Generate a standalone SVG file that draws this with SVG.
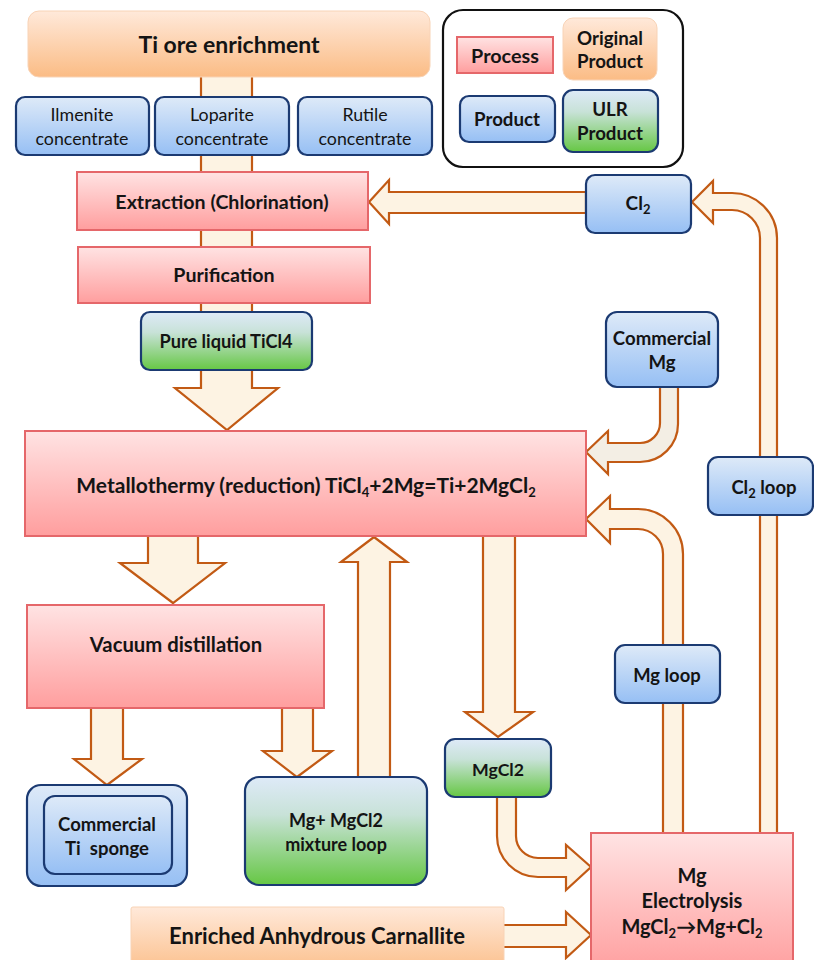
<svg xmlns="http://www.w3.org/2000/svg" width="814" height="960" viewBox="0 0 814 960">
<defs>
<linearGradient id="gPink" x1="0" y1="0" x2="0" y2="1"><stop offset="0" stop-color="#FFE3E3"/><stop offset="1" stop-color="#FF9E9E"/></linearGradient>
<linearGradient id="gBlue" x1="0" y1="0" x2="0" y2="1"><stop offset="0" stop-color="#DEEAF8"/><stop offset="1" stop-color="#96BFF4"/></linearGradient>
<linearGradient id="gGreen" x1="0" y1="0" x2="0" y2="1"><stop offset="0" stop-color="#DEEAF8"/><stop offset="0.35" stop-color="#C8E2D8"/><stop offset="1" stop-color="#66C744"/></linearGradient>
<linearGradient id="gOrange" x1="0" y1="0" x2="0" y2="1"><stop offset="0" stop-color="#FFE9DA"/><stop offset="1" stop-color="#FBBC85"/></linearGradient>
<style>
.proc{fill:url(#gPink);stroke:#E5676A;stroke-width:2}
.prod{fill:url(#gBlue);stroke:#1B3A72;stroke-width:2.2}
.ulr{fill:url(#gGreen);stroke:#1B3A72;stroke-width:2.2}
.orig{fill:url(#gOrange);stroke:#F8D3B6;stroke-width:1}
.arr{fill:#FDF3E3;stroke:#C25A14;stroke-width:2.2;stroke-linejoin:miter}
.arr2{fill:#F3EEE4;stroke:#C25A14;stroke-width:2.2}
text{font-family:Lato,"Open Sans","Liberation Sans",sans-serif;fill:#141414;text-anchor:middle}
.b{font-weight:bold;font-size:19px}
.r{font-size:17.8px}
.sub{font-size:13px}
</style>
</defs>
<rect width="814" height="960" fill="#FFFFFF"/>

<g id="connectors">
<path class="arr" d="M201,70 L201,388 L175,388 L227,430 L278,388 L252,388 L252,70 Z"/>
<path class="arr" d="M586,192 L389,192 L389,180 L369,202 L389,224 L389,213 L586,213 Z"/>
<path class="arr" d="M760,835 L760,238 A28,28 0 0 0 732,210 L713,210 L713,223 L692,202 L713,181 L713,193 L732,193 A45,45 0 0 1 777,238 L777,835 Z"/>
<path class="arr2" d="M660,385 L660,423 A20,20 0 0 1 640,443 L608,443 L608,431 L586,452 L608,474 L608,462 L640,462 A38,38 0 0 0 678,424 L678,385 Z"/>
<path class="arr" d="M663,835 L663,554 A25,25 0 0 0 638,529 L610,529 L610,543 L586,519 L610,496 L610,509 L638,509 A45,45 0 0 1 683,554 L683,835 Z"/>
<path class="arr" d="M148,534 L148,563 L120,563 L173,603 L225,563 L198,563 L198,534 Z"/>
<path class="arr" d="M91,706 L91,759 L74,759 L107,785 L142,759 L123,759 L123,706 Z"/>
<path class="arr" d="M282,706 L282,751 L263,751 L297,777 L332,751 L313,751 L313,706 Z"/>
<path class="arr" d="M358,779 L358,562 L341,562 L374,537 L407,562 L390,562 L390,779 Z"/>
<path class="arr" d="M483,534 L483,712 L465,712 L498,737 L533,712 L515,712 L515,534 Z"/>
<path class="arr" d="M497,795 L497,836 A41,41 0 0 0 538,877 L566,877 L566,890 L591,867 L566,845 L566,858 L538,858 A22,22 0 0 1 516,836 L516,795 Z"/>
<path class="arr" d="M502,925 L566,925 L566,912 L591,935 L566,958 L566,947 L502,947 Z"/>
</g>

<g id="ti-ore">
<rect class="orig" x="28" y="11" width="402" height="66" rx="11"/>
<text x="229" y="53" style="font-weight:bold;font-size:23px">Ti ore enrichment</text>
</g>
<g id="ilmenite">
<rect class="prod" x="16" y="97" width="133" height="58" rx="9"/>
<text class="r" x="82" y="121">Ilmenite</text><text class="r" x="82" y="145">concentrate</text>
</g>
<g id="loparite">
<rect class="prod" x="155" y="97" width="134" height="58" rx="9"/>
<text class="r" x="222" y="121">Loparite</text><text class="r" x="222" y="145">concentrate</text>
</g>
<g id="rutile">
<rect class="prod" x="298" y="97" width="134" height="58" rx="9"/>
<text class="r" x="365" y="121">Rutile</text><text class="r" x="365" y="145">concentrate</text>
</g>

<g id="legend">
<rect x="443" y="10" width="240" height="157" rx="20" fill="#FFFFFF" stroke="#111111" stroke-width="2.2"/>
<g id="legend-process"><rect class="proc" x="457" y="37" width="96" height="36"/><text class="b" x="505" y="63" style="font-size:19.8px">Process</text></g>
<g id="legend-original"><rect class="orig" x="563" y="18" width="94" height="62" rx="10"/><text class="b" x="610" y="45" style="font-size:18.7px">Original</text><text class="b" x="610" y="68" style="font-size:18.7px">Product</text></g>
<g id="legend-product"><rect class="prod" x="460" y="96" width="95" height="46" rx="9"/><text class="b" x="507" y="126" style="font-size:18.7px">Product</text></g>
<g id="legend-ulr"><rect class="ulr" x="563" y="90" width="95" height="62" rx="10"/><text class="b" x="610" y="116" style="font-size:18.7px">ULR</text><text class="b" x="610" y="140" style="font-size:18.7px">Product</text></g>
</g>

<g id="extraction">
<rect class="proc" x="77" y="172" width="291" height="58"/>
<text class="b" x="222" y="209" style="font-size:19.6px">Extraction (Chlorination)</text>
</g>
<g id="purification">
<rect class="proc" x="78" y="247" width="292" height="56"/>
<text class="b" x="224" y="282" style="font-size:19.6px">Purification</text>
</g>
<g id="pure-ticl4">
<rect class="ulr" x="141" y="312" width="171" height="58" rx="9"/>
<text class="b" x="226" y="348" style="font-size:18.2px">Pure liquid TiCl4</text>
</g>
<g id="cl2">
<rect class="prod" x="586" y="175" width="105" height="58" rx="9"/>
<text class="b" x="638" y="210">Cl<tspan class="sub" dy="4">2</tspan></text>
</g>
<g id="commercial-mg">
<rect class="prod" x="606" y="312" width="112" height="75" rx="11"/>
<text class="b" x="662" y="345" style="font-size:18.6px">Commercial</text><text class="b" x="662" y="369" style="font-size:18.6px">Mg</text>
</g>
<g id="metallothermy">
<rect class="proc" x="25" y="431" width="561" height="105"/>
<text class="b" x="306" y="493" style="font-size:21px">Metallothermy (reduction) TiCl<tspan class="sub" dy="4">4</tspan><tspan dy="-4">+2Mg=Ti+2MgCl</tspan><tspan class="sub" dy="4">2</tspan></text>
</g>
<g id="cl2-loop">
<rect class="prod" x="708" y="457" width="105" height="58" rx="10"/>
<text class="b" x="764" y="494" style="font-size:18.5px">Cl<tspan class="sub" dy="4">2</tspan><tspan dy="-4"> loop</tspan></text>
</g>
<g id="vacuum">
<rect class="proc" x="27" y="605" width="297" height="103"/>
<text class="b" x="176" y="652" style="font-size:20.3px">Vacuum distillation</text>
</g>
<g id="mg-loop">
<rect class="prod" x="615" y="645" width="105" height="58" rx="10"/>
<text class="b" x="667" y="682" style="font-size:18.4px">Mg loop</text>
</g>
<g id="mgcl2">
<rect class="ulr" x="445" y="739" width="106" height="58" rx="10"/>
<text class="b" x="498" y="776" style="font-size:17.7px">MgCl2</text>
</g>
<g id="ti-sponge">
<rect class="prod" x="27" y="785" width="160" height="101" rx="14"/>
<rect class="prod" x="44" y="796" width="128" height="78" rx="11"/>
<text class="b" x="107" y="831" style="font-size:18.5px">Commercial</text><text class="b" x="107" y="855" style="font-size:18.5px" xml:space="preserve">Ti  sponge</text>
</g>
<g id="mixture">
<rect class="ulr" x="245" y="777" width="182" height="108" rx="14"/>
<text class="b" x="336" y="827" style="font-size:18px">Mg+ MgCl2</text><text class="b" x="336" y="851" style="font-size:18px">mixture loop</text>
</g>
<g id="carnallite">
<rect class="orig" x="131" y="907" width="373" height="70" rx="2"/>
<text class="b" x="317" y="944" style="font-size:22px">Enriched Anhydrous Carnallite</text>
</g>
<g id="electrolysis">
<rect class="proc" x="591" y="833" width="202" height="140"/>
<text class="b" x="692" y="883" style="font-size:20px">Mg</text>
<text class="b" x="692" y="908" style="font-size:20px">Electrolysis</text>
<text class="b" x="692" y="934" style="font-size:20px">MgCl<tspan class="sub" dy="4">2</tspan><tspan dy="-4">→Mg+Cl</tspan><tspan class="sub" dy="4">2</tspan></text>
</g>
</svg>
